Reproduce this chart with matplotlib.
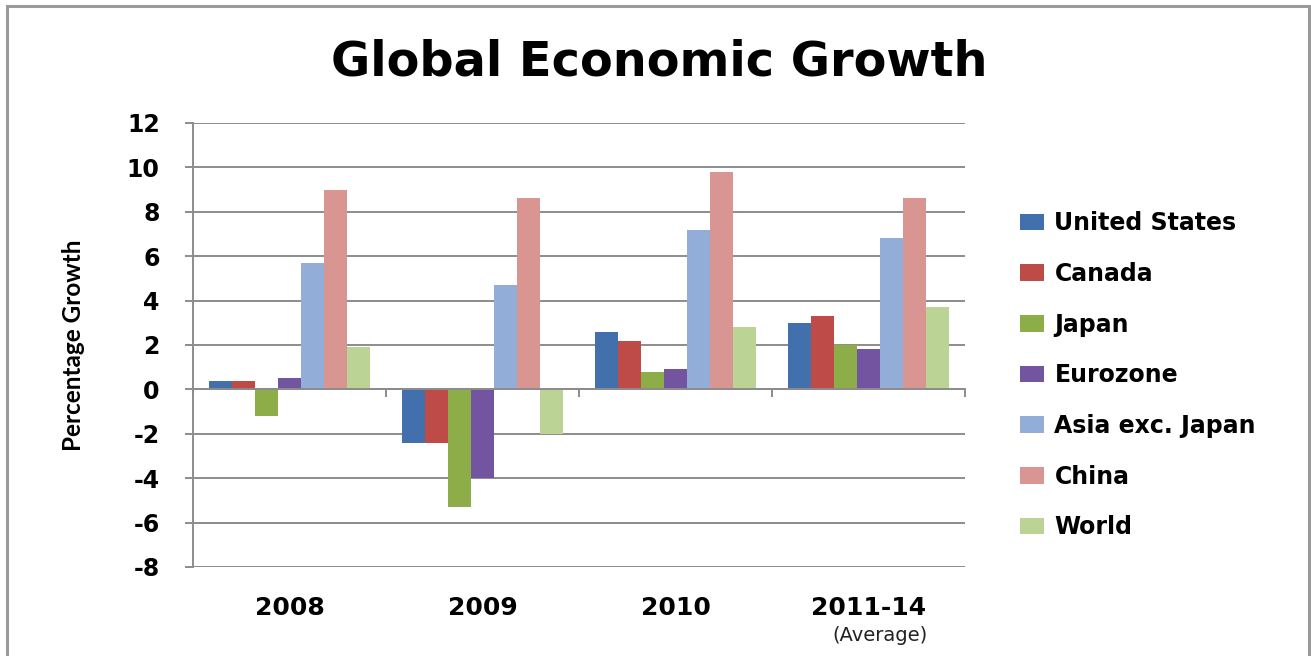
import matplotlib.pyplot as plt
import numpy as np
from matplotlib.patches import Rectangle

categories = ["2008", "2009", "2010", "2011-14"]
series_names = ["United States", "Canada", "Japan", "Eurozone", "Asia exc. Japan", "China", "World"]
united_states = [0.4, -2.4, 2.6, 3.0]
canada = [0.4, -2.4, 2.2, 3.3]
japan = [-1.2, -5.3, 0.8, 2.0]
eurozone = [0.5, -4.0, 0.9, 1.8]
asia_ex_japan = [5.7, 4.7, 7.2, 6.8]
china = [9.0, 8.6, 9.8, 8.6]
world = [1.9, -2.0, 2.8, 3.7]
y_ticks = [-8, -6, -4, -2, 0, 2, 4, 6, 8, 10, 12]

colors = ["#4170ad", "#be4b48", "#8cad48", "#7254a0", "#92aed8", "#d99592", "#bbd395"]
values = [united_states, canada, japan, eurozone, asia_ex_japan, china, world]

W, H = 1311, 656
fig = plt.figure(figsize=(W / 100, H / 100), dpi=100)
# grey frame: top, left and right edges only (bottom runs off the image)
fig.patches.append(Rectangle((7 / W, -0.05), 1302 / W, 1.05 - 6 / H, transform=fig.transFigure,
                             fill=False, edgecolor="#9a9a9a", linewidth=2.2))

ax = fig.add_axes([193 / W, 1 - 567 / H, 772 / W, 444 / H])
x = np.arange(len(categories))
n = len(values)
group_width = 0.83
width = group_width / n

for i, (name, vals) in enumerate(zip(series_names, values)):
    offset = -group_width / 2 + width * (i + 0.5)
    ax.bar(x + offset, vals, width, color=colors[i], label=name, zorder=3)

ax.set_xlim(-0.5, len(categories) - 0.5)
ax.set_ylim(-8, 12)
ax.set_yticks(y_ticks)
ax.set_yticklabels([str(t) for t in y_ticks], fontsize=17, fontweight="bold", family="DejaVu Sans")
ax.grid(axis="y", color="#8c8c8c", linewidth=1.4, zorder=0)
ax.tick_params(axis="y", length=6, width=1.4, color="#8c8c8c", pad=18)

for side in ["top", "right"]:
    ax.spines[side].set_visible(False)
ax.spines["left"].set_color("#8c8c8c")
ax.spines["left"].set_linewidth(1.4)
ax.spines["bottom"].set_position(("data", 0))
ax.spines["bottom"].set_color("#8c8c8c")
ax.spines["bottom"].set_linewidth(1.4)
ax.spines["bottom"].set_zorder(4)

ax.set_xticks(np.arange(len(categories) + 1) - 0.5)
ax.set_xticklabels([])
ax.tick_params(axis="x", length=6, width=1.4, color="#8c8c8c", direction="out")

sec = ax.secondary_xaxis(location=0)
sec.set_xticks(x)
sec.set_xticklabels(categories, fontsize=18, fontweight="bold", family="DejaVu Sans")
sec.tick_params(length=0, pad=21)
sec.spines["bottom"].set_visible(False)
ax.text(3.06, -0.155, "(Average)", transform=ax.get_xaxis_transform(), ha="center", va="center",
        fontsize=14, family="DejaVu Sans", color="#222222")

ax.set_ylabel("Percentage Growth", fontsize=17.5, fontweight="bold", family="Lato", labelpad=30)

fig.text(659 / W, 1 - 62 / H, "Global Economic Growth", ha="center", va="center",
         fontsize=34.5, fontweight="bold", family="DejaVu Sans")

ax.legend(loc="center left", bbox_to_anchor=(1.044, 0.432), frameon=False,
          prop={"family": "DejaVu Sans", "weight": "bold", "size": 17},
          handlelength=1.0, handleheight=0.7, handletextpad=0.45, labelspacing=1.13)

fig.savefig("out.png", dpi=100)
